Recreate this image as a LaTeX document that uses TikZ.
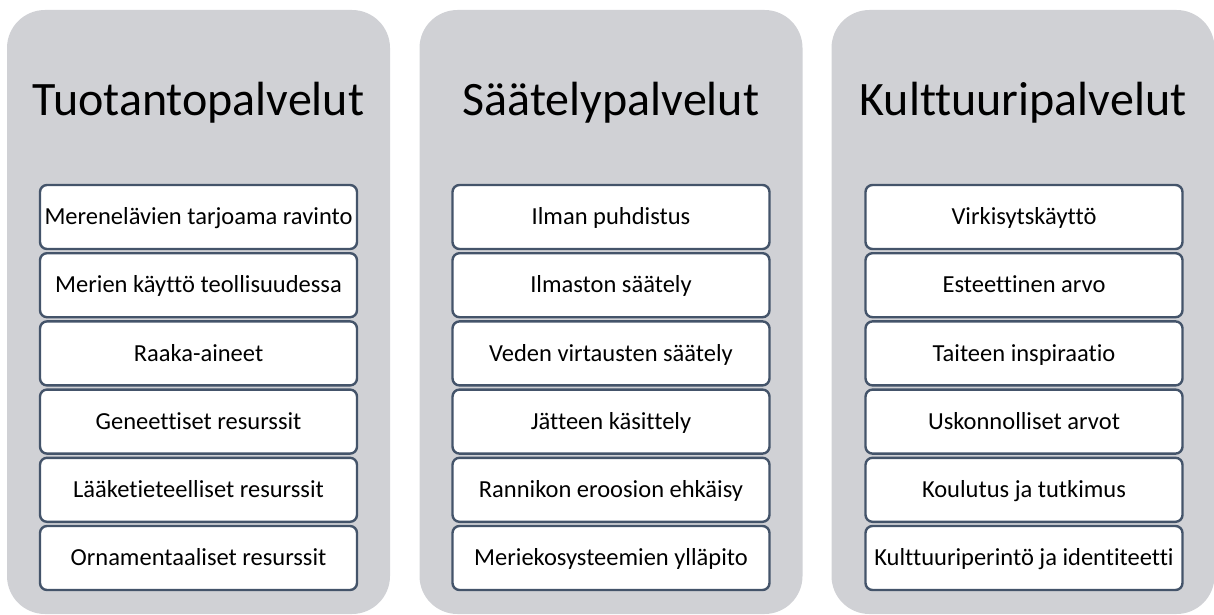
\documentclass[tikz,border=0pt]{standalone}
\usepackage{fontspec}
\setmainfont[Ligatures=NoCommon]{Carlito}
\usetikzlibrary{shapes}
\definecolor{panelgrey}{RGB}{208,209,213}
\definecolor{boxline}{RGB}{68,84,106}
\tikzset{
  panel/.style={shape=rectangle,fill=panelgrey,draw=none,rounded corners=38pt,minimum width=383pt,minimum height=604pt,inner sep=0pt},
  paneltitle/.style={shape=rectangle,align=center,inner sep=0pt,text height=31pt,text depth=0pt,font=\fontsize{48}{54}\selectfont},
  item/.style={shape=rectangle,draw=boxline,fill=white,align=center,line width=2.4pt,rounded corners=7pt,minimum width=317pt,minimum height=64pt,inner sep=0pt,text height=15.5pt,text depth=0pt,font=\fontsize{24.5}{28}\selectfont}
}
\begin{document}
\begin{tikzpicture}[x=1pt,y=-1pt]
\useasboundingbox (0,0) rectangle (1214,615);
\node[panel] (p1) at (198.5,312) {};
\node[panel] (p2) at (611,312) {};
\node[panel] (p3) at (1023,312) {};

\node[paneltitle] (t1) at (198.5,99.5) {Tuotantopalvelut};
\node[paneltitle] (t2) at (611,99.5) {Säätelypalvelut};
\node[paneltitle] (t3) at (1023,99.5) {Kulttuuripalvelut};

\node[item] (a1) at (198.5,217) {Merenelävien tarjoama ravinto};
\node[item] (a2) at (198.5,285.2) {Merien käyttö teollisuudessa};
\node[item] (a3) at (198.5,353.4) {Raaka-aineet};
\node[item] (a4) at (198.5,421.6) {Geneettiset resurssit};
\node[item] (a5) at (198.5,489.8) {Lääketieteelliset resurssit};
\node[item] (a6) at (198.5,558) {Ornamentaaliset resurssit};

\node[item] (b1) at (611,217) {Ilman puhdistus};
\node[item] (b2) at (611,285.2) {Ilmaston säätely};
\node[item] (b3) at (611,353.4) {Veden virtausten säätely};
\node[item] (b4) at (611,421.6) {Jätteen käsittely};
\node[item] (b5) at (611,489.8) {Rannikon eroosion ehkäisy};
\node[item] (b6) at (611,558) {Meriekosysteemien ylläpito};

\node[item] (c1) at (1024,217) {Virkisytskäyttö};
\node[item] (c2) at (1024,285.2) {Esteettinen arvo};
\node[item] (c3) at (1024,353.4) {Taiteen inspiraatio};
\node[item] (c4) at (1024,421.6) {Uskonnolliset arvot};
\node[item] (c5) at (1024,489.8) {Koulutus ja tutkimus};
\node[item] (c6) at (1024,558) {Kulttuuriperintö ja identiteetti};
\end{tikzpicture}
\end{document}
